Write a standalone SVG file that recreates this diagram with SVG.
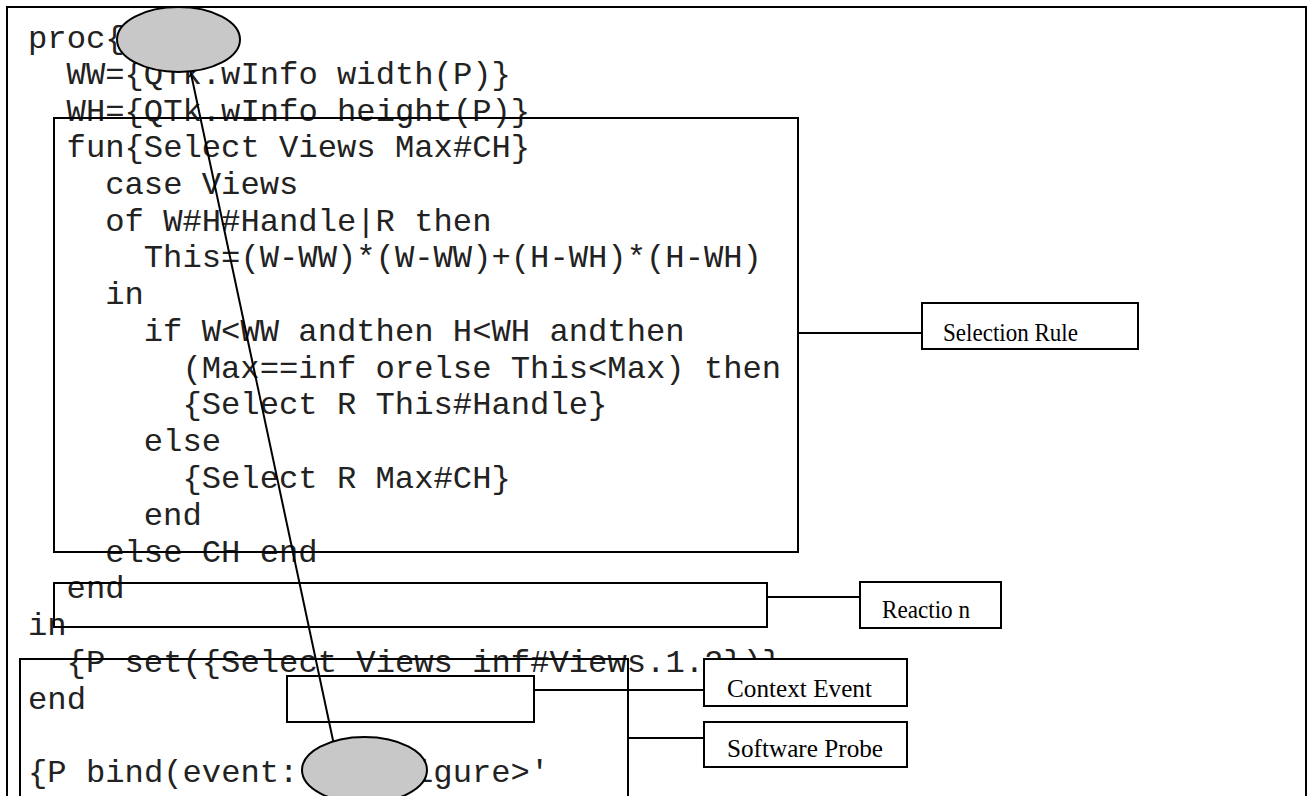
<svg xmlns="http://www.w3.org/2000/svg" width="1313" height="796" viewBox="0 0 1313 796">
<style>
.code{font-family:"Liberation Mono","Courier New",monospace;font-size:32.2px;fill:#222;white-space:pre}
.lbl{font-family:"Liberation Serif","Times New Roman",serif;font-size:26px;fill:#000}
.frame{fill:none;stroke:#000;stroke-width:2}
.box{fill:#fff;stroke:#000;stroke-width:2}
.conn{fill:none;stroke:#000;stroke-width:2}
.ell{fill:#c8c8c8;stroke:#000;stroke-width:2}
</style>
<rect x="0" y="0" width="1313" height="796" fill="#fff"/>
<rect id="frame" class="frame" x="7" y="7" width="1299" height="800"/>
<g id="code">
<text class="code" x="28" y="47.5">proc{</text>
<text class="code" x="66.6" y="84">WW={QTk.wInfo width(P)}</text>
<text class="code" x="66.6" y="120.5">WH={QTk.wInfo height(P)}</text>
<text class="code" x="66.6" y="157.2">fun{Select Views Max#CH}</text>
<text class="code" x="105.2" y="193.9">case Views</text>
<text class="code" x="105.2" y="230.6">of W#H#Handle|R then</text>
<text class="code" x="143.8" y="267.3">This=(W-WW)*(W-WW)+(H-WH)*(H-WH)</text>
<text class="code" x="105.2" y="304">in</text>
<text class="code" x="143.8" y="340.8">if W&lt;WW andthen H&lt;WH andthen</text>
<text class="code" x="182.4" y="377.6">(Max==inf orelse This&lt;Max) then</text>
<text class="code" x="182.4" y="414.4">{Select R This#Handle}</text>
<text class="code" x="143.8" y="451.2">else</text>
<text class="code" x="182.4" y="488">{Select R Max#CH}</text>
<text class="code" x="143.8" y="524.8">end</text>
<text class="code" x="105.2" y="561.6">else CH end</text>
<text class="code" x="66.6" y="598.4">end</text>
<text class="code" x="28" y="635.2">in</text>
<text class="code" x="66.6" y="672">{P set({Select Views inf#Views.1.2})}</text>
<text class="code" x="28" y="708.8">end</text>
<text class="code" x="28" y="782.4">{P bind(event:</text>
<text class="code" x="414" y="782.4">igure&gt;'</text>
</g>
<g id="regions">
<rect id="selection-region" class="frame" x="54" y="118" width="744" height="434"/>
<rect id="reaction-region" class="frame" x="54" y="583" width="713" height="44"/>
<path id="probe-region" class="frame" d="M20,800 V659 H628 V800"/>
<rect id="event-region" class="frame" x="287" y="676" width="247" height="46"/>
</g>
<g id="connectors">
<line class="conn" x1="798" y1="333" x2="922" y2="333"/>
<line class="conn" x1="767" y1="597" x2="860" y2="597"/>
<line class="conn" x1="534" y1="690" x2="704" y2="690"/>
<line class="conn" x1="628" y1="738" x2="704" y2="738"/>
<line class="conn" stroke-width="1.6" x1="177" y1="8" x2="334" y2="745"/>
</g>
<g id="selection-rule">
<rect class="box" x="922" y="303" width="216" height="46"/>
<text class="lbl" x="943" y="341" textLength="135" lengthAdjust="spacingAndGlyphs">Selection Rule</text>
</g>
<g id="reaction">
<rect class="box" x="860" y="582" width="141" height="46"/>
<text class="lbl" x="882" y="618" textLength="88" lengthAdjust="spacingAndGlyphs">Reactio n</text>
</g>
<g id="context-event">
<rect class="box" x="704" y="659" width="203" height="47"/>
<text class="lbl" x="727" y="697" textLength="145" lengthAdjust="spacingAndGlyphs">Context Event</text>
</g>
<g id="software-probe">
<rect class="box" x="704" y="722" width="203" height="45"/>
<text class="lbl" x="727" y="757" textLength="156" lengthAdjust="spacingAndGlyphs">Software Probe</text>
</g>
<g id="top-ellipse">
<ellipse class="ell" cx="178.5" cy="39.5" rx="61.5" ry="32.5"/>
</g>
<g id="bottom-ellipse">
<ellipse class="ell" cx="364.5" cy="770" rx="62.5" ry="33"/>
</g>
</svg>
